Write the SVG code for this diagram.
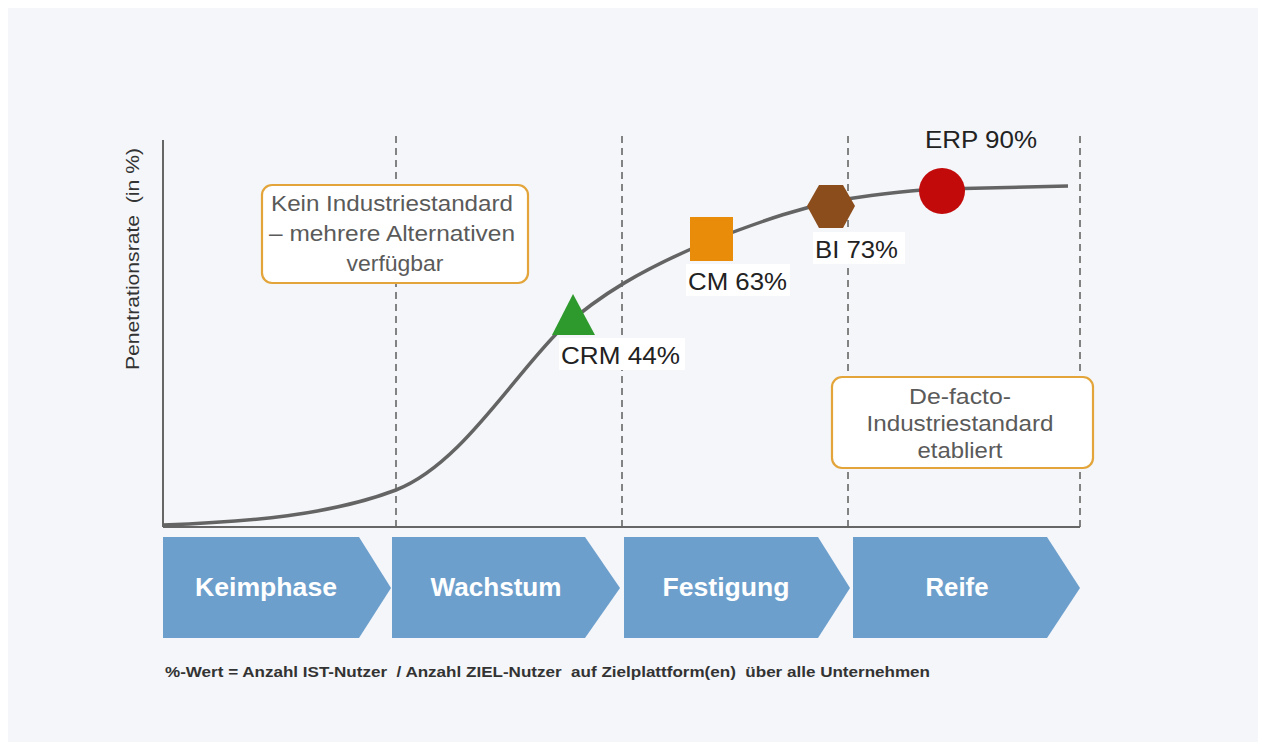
<svg xmlns="http://www.w3.org/2000/svg" width="1261" height="742" viewBox="0 0 1261 742">
<style>
.lbl{font-family:"Liberation Sans",Arial,sans-serif;font-size:24px;fill:#222;}
.box{fill:#fff;stroke:#e3a43a;stroke-width:2.2;}
.boxt{font-family:"Liberation Sans",Arial,sans-serif;font-size:22px;fill:#5a5a5a;text-anchor:middle;}
.dash{stroke:#666;stroke-width:1.6;stroke-dasharray:7 5;fill:none;}
.chev{fill:#6d9fcd;}
.chevt{font-family:"Liberation Sans",Arial,sans-serif;font-size:25px;font-weight:bold;fill:#fff;text-anchor:middle;}
.lblbg{fill:#fff;}
.pre{white-space:pre;}
</style>
<rect x="0" y="0" width="1261" height="742" fill="#ffffff"/>
<rect x="8" y="8" width="1250" height="734" fill="#f4f6f9"/>
<g id="axes">
<line x1="163" y1="140" x2="163" y2="527" stroke="#666" stroke-width="2"/>
<line x1="163" y1="527" x2="1080" y2="527" stroke="#666" stroke-width="2"/>
<line class="dash" x1="396" y1="136" x2="396" y2="527"/>
<line class="dash" x1="622" y1="136" x2="622" y2="527"/>
<line class="dash" x1="848" y1="136" x2="848" y2="527"/>
<line class="dash" x1="1080" y1="136" x2="1080" y2="527"/>
<text class="pre" xml:space="preserve" transform="translate(139,259) rotate(-90)" font-family="Liberation Sans,Arial,sans-serif" font-size="19" fill="#333" text-anchor="middle" textLength="222" lengthAdjust="spacingAndGlyphs">Penetrationsrate  (in %)</text>
</g>
<g id="connectors">
<path d="M163,525 C250,522 330,515 396,490 C460,465 510,380 560,330 C600,295 640,270 712,240 C770,218 800,208 840,200 C880,194 910,190 942,189 C990,188 1030,187 1068,186" fill="none" stroke="#646464" stroke-width="3.5"/>
</g>
<g id="box-kein">
<rect class="box" x="262" y="185" width="266" height="98" rx="10"/>
<text class="boxt" x="392" y="211" textLength="242" lengthAdjust="spacingAndGlyphs">Kein Industriestandard</text>
<text class="boxt" x="392" y="241" textLength="246" lengthAdjust="spacingAndGlyphs">– mehrere Alternativen</text>
<text class="boxt" x="395" y="271" textLength="97" lengthAdjust="spacingAndGlyphs">verfügbar</text>
</g>
<g id="box-defacto">
<rect class="box" x="832" y="377" width="261" height="91" rx="10"/>
<text class="boxt" x="960" y="404" textLength="102" lengthAdjust="spacingAndGlyphs">De-facto-</text>
<text class="boxt" x="960" y="431" textLength="187" lengthAdjust="spacingAndGlyphs">Industriestandard</text>
<text class="boxt" x="960" y="458" textLength="85" lengthAdjust="spacingAndGlyphs">etabliert</text>
</g>
<g id="crm">
<polygon points="573,294 552,335 595,335" fill="#2e9a2e"/>
<rect class="lblbg" x="559" y="338" width="126" height="32"/>
<text class="lbl" x="561" y="364" textLength="119" lengthAdjust="spacingAndGlyphs">CRM 44%</text>
</g>
<g id="cm">
<rect x="690" y="217" width="43" height="44" fill="#e98c0a"/>
<rect class="lblbg" x="686" y="264" width="104" height="32"/>
<text class="lbl" x="688" y="290" textLength="99" lengthAdjust="spacingAndGlyphs">CM 63%</text>
</g>
<g id="bi">
<polygon points="807,206 819,185 843,185 855,206 843,228 819,228" fill="#8b4d1c"/>
<rect class="lblbg" x="813" y="232" width="92" height="32"/>
<text class="lbl" x="815" y="258" textLength="83" lengthAdjust="spacingAndGlyphs">BI 73%</text>
</g>
<g id="erp">
<circle cx="942" cy="191" r="23" fill="#c20a0a"/>
<text class="lbl" x="925" y="148" textLength="112" lengthAdjust="spacingAndGlyphs">ERP 90%</text>
</g>
<g id="phases">
<polygon class="chev" points="163,537 359,537 391,588 359,638 163,638"/>
<polygon class="chev" points="392,537 585,537 620,588 585,638 392,638"/>
<polygon class="chev" points="624,537 818,537 850,588 818,638 624,638"/>
<polygon class="chev" points="853,537 1047,537 1080,588 1047,638 853,638"/>
<text class="chevt" x="266" y="596" textLength="142" lengthAdjust="spacingAndGlyphs">Keimphase</text>
<text class="chevt" x="496" y="596" textLength="131" lengthAdjust="spacingAndGlyphs">Wachstum</text>
<text class="chevt" x="726" y="596" textLength="127" lengthAdjust="spacingAndGlyphs">Festigung</text>
<text class="chevt" x="957" y="596" textLength="63" lengthAdjust="spacingAndGlyphs">Reife</text>
</g>
<text class="pre" xml:space="preserve" x="165" y="677" font-family="Liberation Sans,Arial,sans-serif" font-size="14" font-weight="bold" fill="#333" textLength="765" lengthAdjust="spacingAndGlyphs">%-Wert = Anzahl IST-Nutzer  / Anzahl ZIEL-Nutzer  auf Zielplattform(en)  über alle Unternehmen</text>
</svg>
